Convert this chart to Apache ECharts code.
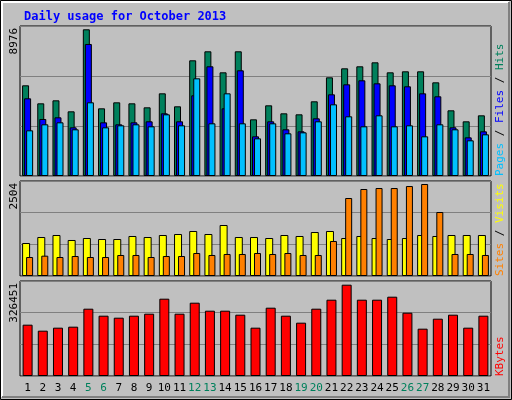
<!DOCTYPE html>
<html><head><meta charset="utf-8">
<script src="https://cdn.jsdelivr.net/npm/echarts@6/dist/echarts.min.js"></script>
<style>html,body{margin:0;padding:0;background:#c0c0c0}#c{width:512px;height:400px}</style>
</head><body><div id="c"></div>
<script>
const days = Array.from({length:31},(_,i)=>String(i+1));
const weekend = ['5','6','12','13','19','20','26','27'];
const hits = [5549,4447,4631,3958,8976,4141,4508,4447,4202,5059,4264,7079,7630,6344,7630,3468,4325,3835,3774,4570,6038,6589,6712,6956,6344,6406,6406,5732,4019,3346,3713];
const files = [4753,3488,3590,2978,8078,3284,3162,3284,3346,3835,3346,4937,6712,4141,6467,2428,3346,2856,2734,3529,4998,5610,5855,5671,5549,5488,5059,4876,2978,2366,2734];
const pages = [2795,3162,3284,2856,4508,2978,3101,3162,3040,3774,3101,5977,3223,5059,3223,2305,3223,2611,2672,3346,4386,3652,3040,3713,3040,3101,2428,3162,2856,2183,2550];
const visits = [898,1061,1116,980,1034,1007,1007,1089,1061,1116,1143,1225,1143,1388,1061,1061,1034,1116,1089,1197,1225,1034,1089,1034,1007,1034,1116,1089,1116,1116,1116];
const sites = [517,553,517,544,517,517,572,572,517,544,544,626,572,599,599,626,599,626,572,572,953,2123,2368,2395,2395,2449,2504,1742,599,599,572];
const kbytes = [183476,162030,172753,176327,240663,215643,208495,215643,222792,276405,222792,262108,233514,233514,219218,172753,244237,215643,190624,240663,272831,326451,272831,272831,283553,226366,169179,204921,219218,172753,215643];
const maxLabels = ['8976','2504','326451'];

const F = '"DejaVu Sans Mono", monospace';
const grids = [{left:20,right:21,top:26,height:150},{left:20,right:21,top:181,height:95},{left:20,right:21,top:281,height:95}];
const maxes = [9178,2586,339680];
const ec = echarts.init(document.getElementById('c'));
const bs = c => ({color:c,borderColor:'#000',borderWidth:1});
ec.setOption({
  backgroundColor:'#c0c0c0',
  animation:false,
  title:{text:'Daily usage for October 2013',left:19,top:6,textStyle:{fontFamily:F,fontSize:12,fontWeight:'bold',color:'#0000ff'}},
  grid:grids.map(g=>Object.assign({show:true,backgroundColor:'#c0c0c0',borderColor:'#000',borderWidth:1},g)),
  xAxis:[0,1,2].map(i=>({type:'category',gridIndex:i,data:days,axisLine:{show:false},axisTick:{show:false},
    axisLabel:{show:i===2,interval:0,margin:7,fontFamily:F,fontSize:11,
      formatter:v=>weekend.includes(v)?'{w|'+v+'}':'{n|'+v+'}',
      rich:{w:{color:'#00805c',fontFamily:F,fontSize:11},n:{color:'#000',fontFamily:F,fontSize:11}}}})),
  yAxis:[0,1,2].map(i=>({type:'value',gridIndex:i,min:0,max:maxes[i],interval:maxes[i]/3,
    axisLine:{show:false},axisTick:{show:false},axisLabel:{show:false},
    splitLine:{lineStyle:{color:'#808080',width:1}}})),
  series:[
    {type:'bar',xAxisIndex:0,yAxisIndex:0,data:hits,barWidth:7,barGap:'-71%',itemStyle:bs('#00805c')},
    {type:'bar',xAxisIndex:0,yAxisIndex:0,data:files,barWidth:7,barGap:'-71%',itemStyle:bs('#0000ff')},
    {type:'bar',xAxisIndex:0,yAxisIndex:0,data:pages,barWidth:7,barGap:'-71%',itemStyle:bs('#00c0ff')},
    {type:'bar',xAxisIndex:1,yAxisIndex:1,data:visits,barWidth:8,barGap:'-50%',itemStyle:bs('#ffff00')},
    {type:'bar',xAxisIndex:1,yAxisIndex:1,data:sites,barWidth:7,barGap:'-50%',itemStyle:bs('#ff8000')},
    {type:'bar',xAxisIndex:2,yAxisIndex:2,data:kbytes,barWidth:10,itemStyle:bs('#ff0000')}
  ],
  graphic:[
    {type:'rect',shape:{x:0.5,y:0.5,width:511,height:399},style:{fill:'none',stroke:'#000',lineWidth:1}},
    {type:'polyline',shape:{points:[[2,397],[2,2],[509,2]]},style:{stroke:'#fff',lineWidth:2,fill:'none'}},
    {type:'polyline',shape:{points:[[509,2],[509,397],[2,397]]},style:{stroke:'#808080',lineWidth:2,fill:'none'}},
    {type:'text',x:14,y:28,rotation:Math.PI/2,style:{text:maxLabels[0],font:'11px '+F,fill:'#000',align:'right',verticalAlign:'middle'}},
    {type:'text',x:14,y:183,rotation:Math.PI/2,style:{text:maxLabels[1],font:'11px '+F,fill:'#000',align:'right',verticalAlign:'middle'}},
    {type:'text',x:14,y:283,rotation:Math.PI/2,style:{text:maxLabels[2],font:'11px '+F,fill:'#000',align:'right',verticalAlign:'middle'}},
    {type:'text',x:500,y:176,rotation:Math.PI/2,style:{text:'{p|Pages}{s| / }{f|Files}{s| / }{h|Hits}',align:'left',verticalAlign:'middle',
      rich:{p:{fill:'#00c0ff',font:'11px '+F},f:{fill:'#0000ff',font:'11px '+F},h:{fill:'#00805c',font:'11px '+F},s:{fill:'#000',font:'11px '+F}}}},
    {type:'text',x:500,y:276,rotation:Math.PI/2,style:{text:'{a|Sites}{s| / }{b|Visits}',align:'left',verticalAlign:'middle',
      rich:{a:{fill:'#ff8000',font:'11px '+F},b:{fill:'#ffff00',font:'11px '+F},s:{fill:'#000',font:'11px '+F}}}},
    {type:'text',x:500,y:376,rotation:Math.PI/2,style:{text:'KBytes',font:'11px '+F,fill:'#ff0000',align:'left',verticalAlign:'middle'}}
  ]
});
</script></body></html>
